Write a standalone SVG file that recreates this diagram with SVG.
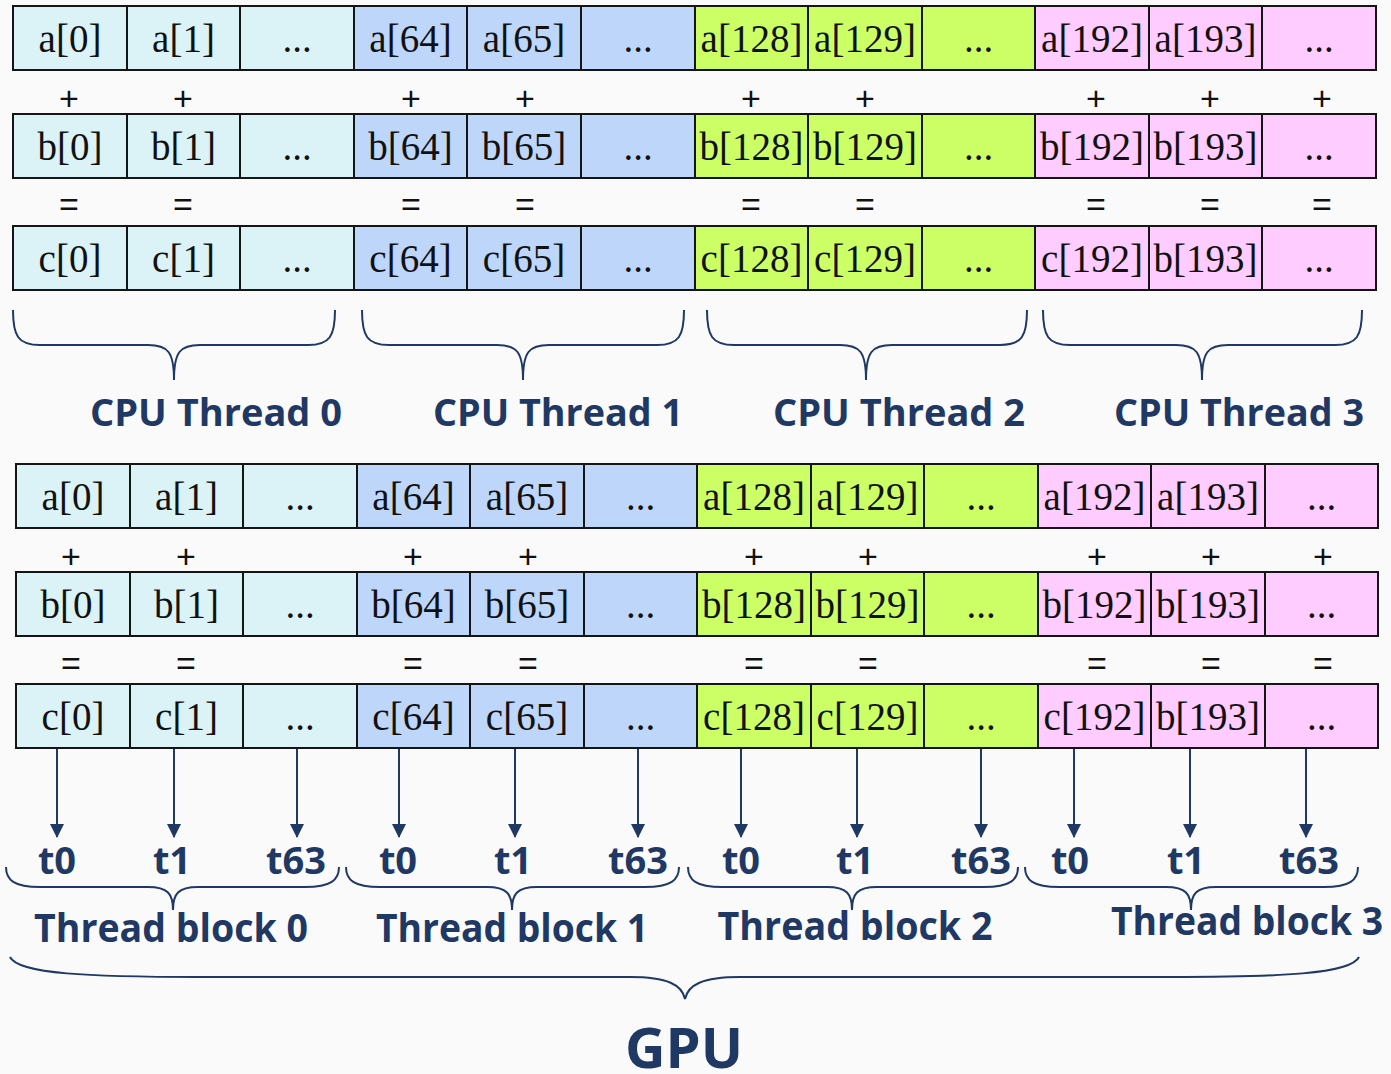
<svg xmlns="http://www.w3.org/2000/svg" width="1391" height="1074" viewBox="0 0 1391 1074">
  <style>
    .cell { stroke: #151515; stroke-width: 2; }
    .cy { fill: #DBF3F7; }
    .bl { fill: #BDD6FA; }
    .gr { fill: #CCFF66; }
    .pk { fill: #FFCCFF; }
    .v { font-family: "Liberation Serif", "DejaVu Serif", serif; font-size: 39px; fill: #111; text-anchor: middle; }
    .op { font-family: "Liberation Sans", Arial, sans-serif; font-size: 34px; fill: #111; text-anchor: middle; }
    .lbl { font-family: "Open Sans", "Noto Sans", sans-serif; font-weight: bold; fill: #1F3864; text-anchor: middle; }
    .brace { fill: none; stroke: #1F3864; stroke-width: 2; }
    .arrow { stroke: #1F3864; stroke-width: 2; marker-end: url(#head); }
  </style>
  <defs>
    <marker id="head" viewBox="0 0 14 14" refX="13" refY="7" markerWidth="14" markerHeight="14" markerUnits="userSpaceOnUse" orient="auto">
      <path d="M0,0 L14,7 L0,14 Z" fill="#1F3864"/>
    </marker>
  </defs>

  <rect x="0" y="0" width="1391" height="1074" fill="#FAFAFA"/>

  <!-- ===== CPU layout: three arrays ===== -->
  <g id="cpu-row-a">
    <g id="cpu-a0"><rect class="cell cy" x="13" y="6" width="114" height="64"/><text class="v" x="70" y="52">a[0]</text></g>
    <g id="cpu-a1"><rect class="cell cy" x="127" y="6" width="113" height="64"/><text class="v" x="183.5" y="52">a[1]</text></g>
    <g id="cpu-a2"><rect class="cell cy" x="240" y="6" width="114" height="64"/><text class="v" x="297" y="52">...</text></g>
    <g id="cpu-a64"><rect class="cell bl" x="354" y="6" width="113" height="64"/><text class="v" x="410.5" y="52">a[64]</text></g>
    <g id="cpu-a65"><rect class="cell bl" x="467" y="6" width="114" height="64"/><text class="v" x="524" y="52">a[65]</text></g>
    <g id="cpu-a66"><rect class="cell bl" x="581" y="6" width="114" height="64"/><text class="v" x="638" y="52">...</text></g>
    <g id="cpu-a128"><rect class="cell gr" x="695" y="6" width="113" height="64"/><text class="v" x="751.5" y="52">a[128]</text></g>
    <g id="cpu-a129"><rect class="cell gr" x="808" y="6" width="114" height="64"/><text class="v" x="865" y="52">a[129]</text></g>
    <g id="cpu-a130"><rect class="cell gr" x="922" y="6" width="113" height="64"/><text class="v" x="978.5" y="52">...</text></g>
    <g id="cpu-a192"><rect class="cell pk" x="1035" y="6" width="114" height="64"/><text class="v" x="1092" y="52">a[192]</text></g>
    <g id="cpu-a193"><rect class="cell pk" x="1149" y="6" width="113" height="64"/><text class="v" x="1205.5" y="52">a[193]</text></g>
    <g id="cpu-a194"><rect class="cell pk" x="1262" y="6" width="114" height="64"/><text class="v" x="1319" y="52">...</text></g>
  </g>
  <g id="cpu-plus">
    <text class="op" x="69" y="110">+</text><text class="op" x="183" y="110">+</text>
    <text class="op" x="411" y="110">+</text><text class="op" x="525" y="110">+</text>
    <text class="op" x="751" y="110">+</text><text class="op" x="865" y="110">+</text>
    <text class="op" x="1096" y="110">+</text><text class="op" x="1210" y="110">+</text><text class="op" x="1322" y="110">+</text>
  </g>
  <g id="cpu-row-b">
    <g id="cpu-b0"><rect class="cell cy" x="13" y="114" width="114" height="64"/><text class="v" x="70" y="160">b[0]</text></g>
    <g id="cpu-b1"><rect class="cell cy" x="127" y="114" width="113" height="64"/><text class="v" x="183.5" y="160">b[1]</text></g>
    <g id="cpu-b2"><rect class="cell cy" x="240" y="114" width="114" height="64"/><text class="v" x="297" y="160">...</text></g>
    <g id="cpu-b64"><rect class="cell bl" x="354" y="114" width="113" height="64"/><text class="v" x="410.5" y="160">b[64]</text></g>
    <g id="cpu-b65"><rect class="cell bl" x="467" y="114" width="114" height="64"/><text class="v" x="524" y="160">b[65]</text></g>
    <g id="cpu-b66"><rect class="cell bl" x="581" y="114" width="114" height="64"/><text class="v" x="638" y="160">...</text></g>
    <g id="cpu-b128"><rect class="cell gr" x="695" y="114" width="113" height="64"/><text class="v" x="751.5" y="160">b[128]</text></g>
    <g id="cpu-b129"><rect class="cell gr" x="808" y="114" width="114" height="64"/><text class="v" x="865" y="160">b[129]</text></g>
    <g id="cpu-b130"><rect class="cell gr" x="922" y="114" width="113" height="64"/><text class="v" x="978.5" y="160">...</text></g>
    <g id="cpu-b192"><rect class="cell pk" x="1035" y="114" width="114" height="64"/><text class="v" x="1092" y="160">b[192]</text></g>
    <g id="cpu-b193"><rect class="cell pk" x="1149" y="114" width="113" height="64"/><text class="v" x="1205.5" y="160">b[193]</text></g>
    <g id="cpu-b194"><rect class="cell pk" x="1262" y="114" width="114" height="64"/><text class="v" x="1319" y="160">...</text></g>
  </g>
  <g id="cpu-equals">
    <text class="op" x="69" y="216">=</text><text class="op" x="183" y="216">=</text>
    <text class="op" x="411" y="216">=</text><text class="op" x="525" y="216">=</text>
    <text class="op" x="751" y="216">=</text><text class="op" x="865" y="216">=</text>
    <text class="op" x="1096" y="216">=</text><text class="op" x="1210" y="216">=</text><text class="op" x="1322" y="216">=</text>
  </g>
  <g id="cpu-row-c">
    <g id="cpu-c0"><rect class="cell cy" x="13" y="226" width="114" height="64"/><text class="v" x="70" y="272">c[0]</text></g>
    <g id="cpu-c1"><rect class="cell cy" x="127" y="226" width="113" height="64"/><text class="v" x="183.5" y="272">c[1]</text></g>
    <g id="cpu-c2"><rect class="cell cy" x="240" y="226" width="114" height="64"/><text class="v" x="297" y="272">...</text></g>
    <g id="cpu-c64"><rect class="cell bl" x="354" y="226" width="113" height="64"/><text class="v" x="410.5" y="272">c[64]</text></g>
    <g id="cpu-c65"><rect class="cell bl" x="467" y="226" width="114" height="64"/><text class="v" x="524" y="272">c[65]</text></g>
    <g id="cpu-c66"><rect class="cell bl" x="581" y="226" width="114" height="64"/><text class="v" x="638" y="272">...</text></g>
    <g id="cpu-c128"><rect class="cell gr" x="695" y="226" width="113" height="64"/><text class="v" x="751.5" y="272">c[128]</text></g>
    <g id="cpu-c129"><rect class="cell gr" x="808" y="226" width="114" height="64"/><text class="v" x="865" y="272">c[129]</text></g>
    <g id="cpu-c130"><rect class="cell gr" x="922" y="226" width="113" height="64"/><text class="v" x="978.5" y="272">...</text></g>
    <g id="cpu-c192"><rect class="cell pk" x="1035" y="226" width="114" height="64"/><text class="v" x="1092" y="272">c[192]</text></g>
    <g id="cpu-c193"><rect class="cell pk" x="1149" y="226" width="113" height="64"/><text class="v" x="1205.5" y="272">b[193]</text></g>
    <g id="cpu-c194"><rect class="cell pk" x="1262" y="226" width="114" height="64"/><text class="v" x="1319" y="272">...</text></g>
  </g>

  <!-- CPU thread braces and labels -->
  <g id="cpu-thread-0">
    <path class="brace" d="M13,310 C13,336 18,345 40,345 L148,345 C168,345 174,352 174,380 C174,352 180,345 200,345 L308,345 C330,345 335,336 335,310"/>
    <text class="lbl" x="216" y="426" font-size="37" textLength="252" lengthAdjust="spacingAndGlyphs">CPU Thread 0</text>
  </g>
  <g id="cpu-thread-1">
    <path class="brace" d="M362,310 C362,336 367,345 389,345 L497,345 C517,345 523,352 523,380 C523,352 529,345 549,345 L657,345 C679,345 684,336 684,310"/>
    <text class="lbl" x="558" y="426" font-size="37" textLength="250" lengthAdjust="spacingAndGlyphs">CPU Thread 1</text>
  </g>
  <g id="cpu-thread-2">
    <path class="brace" d="M707,310 C707,336 712,345 734,345 L840,345 C860,345 866,352 866,380 C866,352 872,345 892,345 L1000,345 C1022,345 1027,336 1027,310"/>
    <text class="lbl" x="899" y="426" font-size="37" textLength="252" lengthAdjust="spacingAndGlyphs">CPU Thread 2</text>
  </g>
  <g id="cpu-thread-3">
    <path class="brace" d="M1043,310 C1043,336 1048,345 1070,345 L1176,345 C1196,345 1202,352 1202,380 C1202,352 1208,345 1228,345 L1335,345 C1357,345 1362,336 1362,310"/>
    <text class="lbl" x="1239" y="426" font-size="37" textLength="250" lengthAdjust="spacingAndGlyphs">CPU Thread 3</text>
  </g>

  <!-- ===== GPU layout: three arrays ===== -->
  <g id="gpu-row-a">
    <g id="gpu-a0"><rect class="cell cy" x="16" y="464" width="114" height="64"/><text class="v" x="73" y="510">a[0]</text></g>
    <g id="gpu-a1"><rect class="cell cy" x="130" y="464" width="113" height="64"/><text class="v" x="186.5" y="510">a[1]</text></g>
    <g id="gpu-a2"><rect class="cell cy" x="243" y="464" width="114" height="64"/><text class="v" x="300" y="510">...</text></g>
    <g id="gpu-a64"><rect class="cell bl" x="357" y="464" width="113" height="64"/><text class="v" x="413.5" y="510">a[64]</text></g>
    <g id="gpu-a65"><rect class="cell bl" x="470" y="464" width="114" height="64"/><text class="v" x="527" y="510">a[65]</text></g>
    <g id="gpu-a66"><rect class="cell bl" x="584" y="464" width="113" height="64"/><text class="v" x="640.5" y="510">...</text></g>
    <g id="gpu-a128"><rect class="cell gr" x="697" y="464" width="114" height="64"/><text class="v" x="754" y="510">a[128]</text></g>
    <g id="gpu-a129"><rect class="cell gr" x="811" y="464" width="113" height="64"/><text class="v" x="867.5" y="510">a[129]</text></g>
    <g id="gpu-a130"><rect class="cell gr" x="924" y="464" width="114" height="64"/><text class="v" x="981" y="510">...</text></g>
    <g id="gpu-a192"><rect class="cell pk" x="1038" y="464" width="113" height="64"/><text class="v" x="1094.5" y="510">a[192]</text></g>
    <g id="gpu-a193"><rect class="cell pk" x="1151" y="464" width="114" height="64"/><text class="v" x="1208" y="510">a[193]</text></g>
    <g id="gpu-a194"><rect class="cell pk" x="1265" y="464" width="113" height="64"/><text class="v" x="1321.5" y="510">...</text></g>
  </g>
  <g id="gpu-plus">
    <text class="op" x="71" y="568">+</text><text class="op" x="186" y="568">+</text>
    <text class="op" x="413" y="568">+</text><text class="op" x="528" y="568">+</text>
    <text class="op" x="754" y="568">+</text><text class="op" x="868" y="568">+</text>
    <text class="op" x="1097" y="568">+</text><text class="op" x="1211" y="568">+</text><text class="op" x="1323" y="568">+</text>
  </g>
  <g id="gpu-row-b">
    <g id="gpu-b0"><rect class="cell cy" x="16" y="572" width="114" height="64"/><text class="v" x="73" y="618">b[0]</text></g>
    <g id="gpu-b1"><rect class="cell cy" x="130" y="572" width="113" height="64"/><text class="v" x="186.5" y="618">b[1]</text></g>
    <g id="gpu-b2"><rect class="cell cy" x="243" y="572" width="114" height="64"/><text class="v" x="300" y="618">...</text></g>
    <g id="gpu-b64"><rect class="cell bl" x="357" y="572" width="113" height="64"/><text class="v" x="413.5" y="618">b[64]</text></g>
    <g id="gpu-b65"><rect class="cell bl" x="470" y="572" width="114" height="64"/><text class="v" x="527" y="618">b[65]</text></g>
    <g id="gpu-b66"><rect class="cell bl" x="584" y="572" width="113" height="64"/><text class="v" x="640.5" y="618">...</text></g>
    <g id="gpu-b128"><rect class="cell gr" x="697" y="572" width="114" height="64"/><text class="v" x="754" y="618">b[128]</text></g>
    <g id="gpu-b129"><rect class="cell gr" x="811" y="572" width="113" height="64"/><text class="v" x="867.5" y="618">b[129]</text></g>
    <g id="gpu-b130"><rect class="cell gr" x="924" y="572" width="114" height="64"/><text class="v" x="981" y="618">...</text></g>
    <g id="gpu-b192"><rect class="cell pk" x="1038" y="572" width="113" height="64"/><text class="v" x="1094.5" y="618">b[192]</text></g>
    <g id="gpu-b193"><rect class="cell pk" x="1151" y="572" width="114" height="64"/><text class="v" x="1208" y="618">b[193]</text></g>
    <g id="gpu-b194"><rect class="cell pk" x="1265" y="572" width="113" height="64"/><text class="v" x="1321.5" y="618">...</text></g>
  </g>
  <g id="gpu-equals">
    <text class="op" x="71" y="675">=</text><text class="op" x="186" y="675">=</text>
    <text class="op" x="413" y="675">=</text><text class="op" x="528" y="675">=</text>
    <text class="op" x="754" y="675">=</text><text class="op" x="868" y="675">=</text>
    <text class="op" x="1097" y="675">=</text><text class="op" x="1211" y="675">=</text><text class="op" x="1323" y="675">=</text>
  </g>
  <g id="gpu-row-c">
    <g id="gpu-c0"><rect class="cell cy" x="16" y="684" width="114" height="64"/><text class="v" x="73" y="730">c[0]</text></g>
    <g id="gpu-c1"><rect class="cell cy" x="130" y="684" width="113" height="64"/><text class="v" x="186.5" y="730">c[1]</text></g>
    <g id="gpu-c2"><rect class="cell cy" x="243" y="684" width="114" height="64"/><text class="v" x="300" y="730">...</text></g>
    <g id="gpu-c64"><rect class="cell bl" x="357" y="684" width="113" height="64"/><text class="v" x="413.5" y="730">c[64]</text></g>
    <g id="gpu-c65"><rect class="cell bl" x="470" y="684" width="114" height="64"/><text class="v" x="527" y="730">c[65]</text></g>
    <g id="gpu-c66"><rect class="cell bl" x="584" y="684" width="113" height="64"/><text class="v" x="640.5" y="730">...</text></g>
    <g id="gpu-c128"><rect class="cell gr" x="697" y="684" width="114" height="64"/><text class="v" x="754" y="730">c[128]</text></g>
    <g id="gpu-c129"><rect class="cell gr" x="811" y="684" width="113" height="64"/><text class="v" x="867.5" y="730">c[129]</text></g>
    <g id="gpu-c130"><rect class="cell gr" x="924" y="684" width="114" height="64"/><text class="v" x="981" y="730">...</text></g>
    <g id="gpu-c192"><rect class="cell pk" x="1038" y="684" width="113" height="64"/><text class="v" x="1094.5" y="730">c[192]</text></g>
    <g id="gpu-c193"><rect class="cell pk" x="1151" y="684" width="114" height="64"/><text class="v" x="1208" y="730">b[193]</text></g>
    <g id="gpu-c194"><rect class="cell pk" x="1265" y="684" width="113" height="64"/><text class="v" x="1321.5" y="730">...</text></g>
  </g>

  <!-- element-to-thread connectors -->
  <g id="connectors">
    <line class="arrow" x1="57" y1="749" x2="57" y2="837"/>
    <line class="arrow" x1="174" y1="749" x2="174" y2="837"/>
    <line class="arrow" x1="297" y1="749" x2="297" y2="837"/>
    <line class="arrow" x1="399" y1="749" x2="399" y2="837"/>
    <line class="arrow" x1="515" y1="749" x2="515" y2="837"/>
    <line class="arrow" x1="638" y1="749" x2="638" y2="837"/>
    <line class="arrow" x1="741" y1="749" x2="741" y2="837"/>
    <line class="arrow" x1="857" y1="749" x2="857" y2="837"/>
    <line class="arrow" x1="981" y1="749" x2="981" y2="837"/>
    <line class="arrow" x1="1074" y1="749" x2="1074" y2="837"/>
    <line class="arrow" x1="1190" y1="749" x2="1190" y2="837"/>
    <line class="arrow" x1="1306" y1="749" x2="1306" y2="837"/>
  </g>

  <!-- GPU threads -->
  <g id="threads" class="lbl" font-size="38">
    <text x="57" y="874">t0</text><text x="172" y="874">t1</text><text x="296" y="874">t63</text>
    <text x="398" y="874">t0</text><text x="513" y="874">t1</text><text x="638" y="874">t63</text>
    <text x="741" y="874">t0</text><text x="855" y="874">t1</text><text x="981" y="874">t63</text>
    <text x="1070" y="874">t0</text><text x="1186" y="874">t1</text><text x="1309" y="874">t63</text>
  </g>

  <!-- thread block braces and labels -->
  <g id="thread-block-0">
    <path class="brace" d="M6,867 C6,880 14,887 40,887 L148,887 C168,887 173,894 173,910 C173,894 178,887 198,887 L305,887 C331,887 339,880 339,867"/>
    <text class="lbl" x="171" y="942" font-size="39" textLength="274" lengthAdjust="spacingAndGlyphs">Thread block 0</text>
  </g>
  <g id="thread-block-1">
    <path class="brace" d="M346,867 C346,880 354,887 380,887 L487,887 C507,887 512,894 512,910 C512,894 517,887 537,887 L645,887 C671,887 679,880 679,867"/>
    <text class="lbl" x="512" y="942" font-size="39" textLength="272" lengthAdjust="spacingAndGlyphs">Thread block 1</text>
  </g>
  <g id="thread-block-2">
    <path class="brace" d="M688,867 C688,880 696,887 722,887 L827,887 C847,887 852,894 852,910 C852,894 857,887 877,887 L984,887 C1010,887 1018,880 1018,867"/>
    <text class="lbl" x="855" y="940" font-size="39" textLength="275" lengthAdjust="spacingAndGlyphs">Thread block 2</text>
  </g>
  <g id="thread-block-3">
    <path class="brace" d="M1025,867 C1025,880 1033,887 1059,887 L1166,887 C1186,887 1191,894 1191,910 C1191,894 1196,887 1216,887 L1324,887 C1350,887 1358,880 1358,867"/>
    <text class="lbl" x="1247" y="935" font-size="39" textLength="272" lengthAdjust="spacingAndGlyphs">Thread block 3</text>
  </g>

  <!-- whole-grid brace -->
  <g id="gpu">
    <path class="brace" d="M10,957 C18,974 90,977 200,977 L630,977 C668,977 682,985 685,999 C688,985 702,977 740,977 L1170,977 C1280,977 1351,974 1359,957"/>
    <text class="lbl" x="684" y="1068" font-size="56">GPU</text>
  </g>
</svg>
